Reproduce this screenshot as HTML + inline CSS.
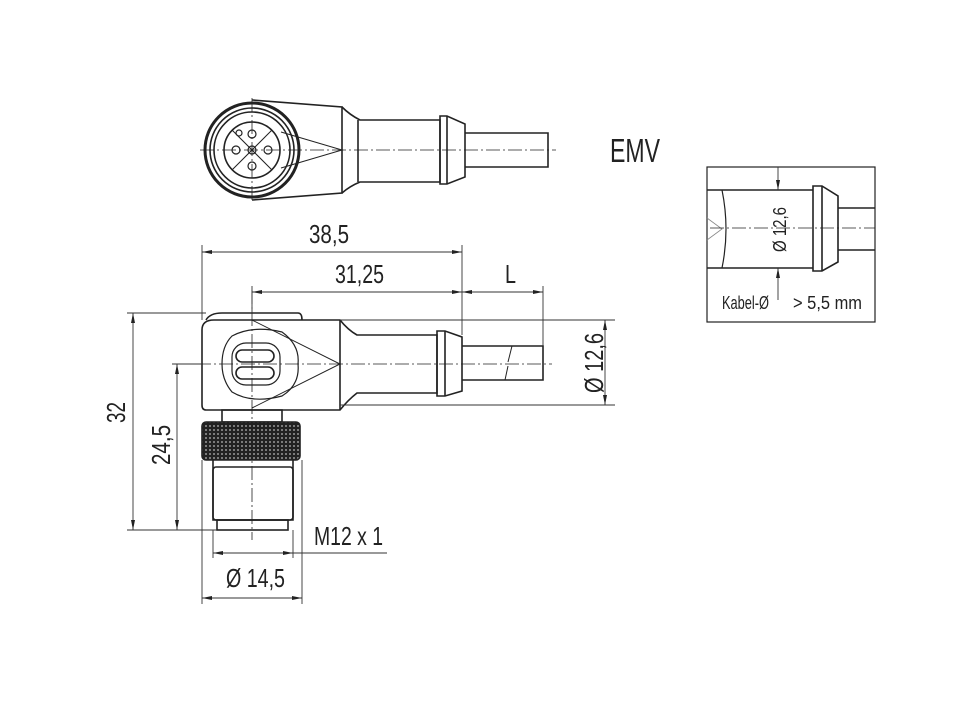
<!DOCTYPE html>
<html><head><meta charset="utf-8"><style>
html,body{margin:0;padding:0;background:#fff;}
svg{display:block;}
text{font-family:"Liberation Sans",sans-serif;fill:#222;}
</style></head><body>
<svg width="972" height="701" viewBox="0 0 972 701" xmlns="http://www.w3.org/2000/svg">
<defs>
<pattern id="kn" width="4" height="4" patternUnits="userSpaceOnUse">
<rect width="4" height="4" fill="#222"/><circle cx="2" cy="2" r="0.9" fill="#bbb"/>
</pattern>
<marker id="a" viewBox="0 0 10 6" refX="10" refY="3" markerWidth="10" markerHeight="6" orient="auto-start-reverse" markerUnits="userSpaceOnUse"><path d="M0,1 L10,3 L0,5 z" fill="#222"/></marker>
</defs>
<g stroke="#222" fill="none" stroke-width="1.6">
<!-- TOP VIEW -->
<path d="M252,100 L342,107 L342,193 L252,200"/>
<path d="M342,107 Q350,115 360,120 L440,120 L440,182 L360,182 Q350,186 342,193"/>
<line x1="358" y1="120" x2="358" y2="182"/>
<path d="M440,116 L447,116 L465,124 L465,177 L447,184 L440,184 Z"/>
<line x1="447" y1="116" x2="447" y2="184"/>
<path d="M465,133 L548,133 L548,167 L465,167"/>
<circle cx="252" cy="150" r="47" fill="#fff" stroke-width="3"/>
<circle cx="252" cy="150" r="42"/>
<circle cx="252" cy="150" r="38"/>
<circle cx="252" cy="150" r="28"/>
<path d="M281,132 L342,150 L281,168" stroke-width="1"/>
<g stroke-width="1">
<line x1="232" y1="130" x2="272" y2="170"/><line x1="272" y1="130" x2="232" y2="170"/>
</g>
<g stroke-width="1.2">
<circle cx="252" cy="134" r="4"/><circle cx="252" cy="166" r="4"/><circle cx="236" cy="150" r="4"/><circle cx="268" cy="150" r="4"/><circle cx="252" cy="150" r="4"/><circle cx="239" cy="133" r="3"/>
</g>
<!-- SIDE VIEW -->
<path d="M206,320 Q210,313 222,313 L298,313 Q302,313 302,320"/>
<path d="M202,330 Q202,320 214,320 L340,320 Q348,330 357,335 L437,335 L437,393 L357,393 Q348,400 340,410 L206,410 Q202,410 202,405 Z"/>
<line x1="340" y1="320" x2="340" y2="410"/>
<path d="M437,331 L445,331 L462,337 L462,391 L445,396 L437,396 Z"/>
<line x1="445" y1="331" x2="445" y2="396"/>
<path d="M462,346 L543,346 L543,380 L462,380"/>
<path d="M512,346 L508,362 M508,366 L505,380" stroke-width="1"/>
<path d="M252,320 L340,364 L252,408" stroke-width="1"/>
<path d="M232,336 Q252,325 282,332 Q300,345 298,364 Q300,385 282,396 Q252,404 232,392 Q222,380 222,364 Q222,346 232,336 Z" stroke-width="1.2"/>
<rect x="232" y="343" width="48" height="42" rx="14" stroke-width="1.2"/>
<rect x="236" y="350" width="38" height="12" rx="6"/>
<rect x="236" y="367" width="38" height="12" rx="6"/>
<rect x="222" y="410" width="60" height="12"/>
<rect x="202" y="422" width="98" height="38" rx="4" fill="url(#kn)"/>
<path d="M213,460 L213,520 L293,520 L293,460"/>
<rect x="213" y="467" width="80" height="53" rx="3"/>
<rect x="217" y="520" width="71" height="10"/>
<!-- EMV box -->
<rect x="707" y="167" width="168" height="155" stroke-width="1.2"/>
<line x1="707" y1="190" x2="813" y2="190"/>
<line x1="707" y1="268" x2="813" y2="268"/>
<path d="M722,190 Q730,229 722,268" stroke-width="1.2"/>
<path d="M707,218 L722,229 L707,240" stroke-width="0.8" stroke="#888"/>
<path d="M813,186 L822,186 L838,196 L838,262 L822,271 L813,271 Z"/>
<line x1="822" y1="186" x2="822" y2="271"/>
<line x1="838" y1="208" x2="875" y2="208"/><line x1="838" y1="250" x2="875" y2="250"/>
</g>
<!-- center lines -->
<g stroke="#222" stroke-width="0.8" stroke-dasharray="14,3,2,3" fill="none">
<line x1="200" y1="150" x2="556" y2="150"/>
<line x1="252" y1="98" x2="252" y2="202"/>
<line x1="175" y1="364" x2="552" y2="364"/>
<line x1="252" y1="290" x2="252" y2="540"/>
<line x1="710" y1="228" x2="875" y2="228"/>
</g>
<!-- dimension lines -->
<g stroke="#333" stroke-width="0.9" fill="none">
<line x1="202" y1="245" x2="202" y2="320"/>
<line x1="462" y1="245" x2="462" y2="335"/>
<line x1="252" y1="286" x2="252" y2="313"/>
<line x1="543" y1="286" x2="543" y2="346"/>
<line x1="202" y1="252" x2="462" y2="252" marker-start="url(#a)" marker-end="url(#a)"/>
<line x1="252" y1="292" x2="462" y2="292" marker-start="url(#a)" marker-end="url(#a)"/>
<line x1="462" y1="292" x2="543" y2="292" marker-start="url(#a)" marker-end="url(#a)"/>
<line x1="340" y1="320" x2="615" y2="320"/>
<line x1="340" y1="405" x2="615" y2="405"/>
<line x1="605" y1="320" x2="605" y2="405" marker-start="url(#a)" marker-end="url(#a)"/>
<line x1="127" y1="313" x2="206" y2="313"/>
<line x1="127" y1="530" x2="217" y2="530"/>
<line x1="172" y1="364" x2="202" y2="364"/>
<line x1="133" y1="313" x2="133" y2="530" marker-start="url(#a)" marker-end="url(#a)"/>
<line x1="177" y1="364" x2="177" y2="530" marker-start="url(#a)" marker-end="url(#a)"/>
<line x1="213" y1="530" x2="213" y2="558"/>
<line x1="293" y1="530" x2="293" y2="558"/>
<line x1="202" y1="460" x2="202" y2="604"/>
<line x1="302" y1="460" x2="302" y2="604"/>
<line x1="213" y1="553" x2="293" y2="553" marker-start="url(#a)" marker-end="url(#a)"/>
<line x1="293" y1="553" x2="387" y2="553"/>
<line x1="202" y1="598" x2="302" y2="598" marker-start="url(#a)" marker-end="url(#a)"/>
<line x1="778" y1="167" x2="778" y2="190" marker-end="url(#a)"/>
<line x1="778" y1="300" x2="778" y2="268" marker-end="url(#a)"/>
</g>
<!-- text -->
<g font-size="26">
<text x="309" y="243" textLength="40" lengthAdjust="spacingAndGlyphs">38,5</text>
<text x="335" y="283" textLength="49" lengthAdjust="spacingAndGlyphs">31,25</text>
<text x="505" y="283" textLength="11" lengthAdjust="spacingAndGlyphs">L</text>
<text x="314" y="545" textLength="69" lengthAdjust="spacingAndGlyphs">M12 x 1</text>
<text x="226" y="587" textLength="59" lengthAdjust="spacingAndGlyphs">Ø 14,5</text>
<text transform="translate(125,423) rotate(-90)" textLength="21" lengthAdjust="spacingAndGlyphs">32</text>
<text transform="translate(170,465) rotate(-90)" textLength="40" lengthAdjust="spacingAndGlyphs">24,5</text>
<text transform="translate(603,393) rotate(-90)" textLength="60" lengthAdjust="spacingAndGlyphs">Ø 12,6</text>
</g>
<text x="610" y="162" font-size="33" textLength="50" lengthAdjust="spacingAndGlyphs">EMV</text>
<text transform="translate(786,252) rotate(-90)" font-size="18" textLength="45" lengthAdjust="spacingAndGlyphs">Ø 12,6</text>
<text x="722" y="309" font-size="18" textLength="47" lengthAdjust="spacingAndGlyphs">Kabel-Ø</text>
<text x="793" y="309" font-size="18" textLength="69" lengthAdjust="spacingAndGlyphs">&gt; 5,5 mm</text>
</svg>
</body></html>
